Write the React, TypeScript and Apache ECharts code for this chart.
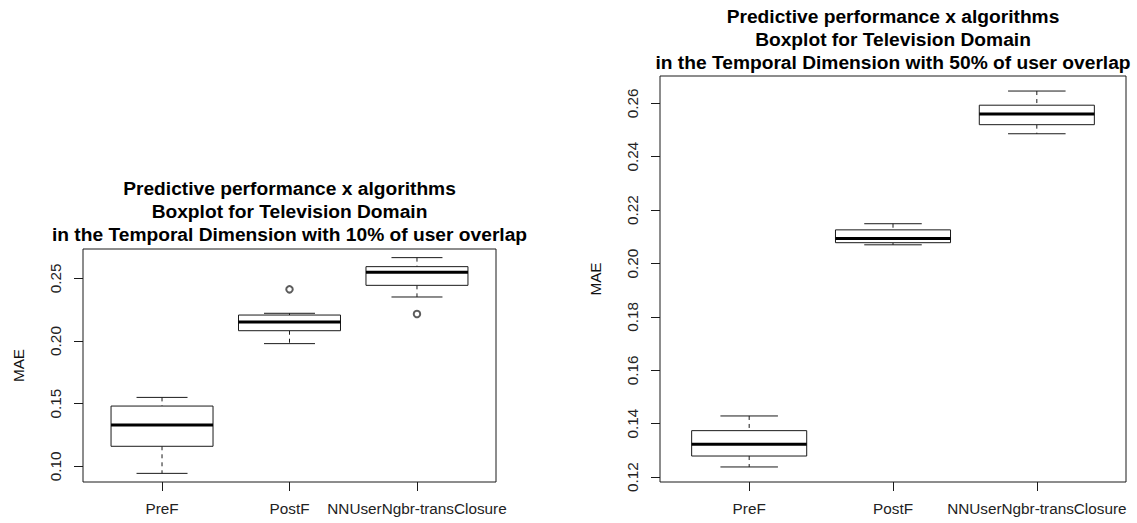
import React, { useEffect, useRef } from 'react';
import * as echarts from 'echarts';

const categories = ['PreF', 'PostF', 'NNUserNgbr-transClosure'];

// each box: [lower whisker, Q1, median, Q3, upper whisker]
const preF10 = [0.0944, 0.116, 0.133, 0.1481, 0.155];
const postF10 = [0.1979, 0.2082, 0.2152, 0.2207, 0.2221];
const nn10 = [0.2351, 0.2444, 0.2548, 0.2593, 0.2665];
const outliers10 = [[2, 0.2412], [3, 0.2215]];

const preF50 = [0.1238, 0.1279, 0.1323, 0.1374, 0.1429];
const postF50 = [0.207, 0.2078, 0.2094, 0.2126, 0.2149];
const nn50 = [0.2486, 0.252, 0.256, 0.2593, 0.2646];
const outliers50: number[][] = [];

const ticks10 = [0.1, 0.15, 0.2, 0.25];
const ticks50 = [0.12, 0.14, 0.16, 0.18, 0.2, 0.22, 0.24, 0.26];
const categoryTicks = [1, 2, 3];

const title10 = 'Predictive performance x algorithms\nBoxplot for Television Domain\nin the Temporal Dimension with 10% of user overlap';
const title50 = 'Predictive performance x algorithms\nBoxplot for Television Domain\nin the Temporal Dimension with 50% of user overlap';
const yName = 'MAE';

const FONT = '"Liberation Sans", Arial, Helvetica, sans-serif';
const INK = '#1a1a1a';

function rRange(boxes: number[][], outs: number[][]) {
  const vals: number[] = [];
  boxes.forEach((b) => vals.push(...b));
  outs.forEach((o) => vals.push(o[1]));
  const lo = Math.min(...vals);
  const hi = Math.max(...vals);
  const d = (hi - lo) * 0.04;
  return [lo - d, hi + d];
}

const renderBox = (params: any, api: any) => {
  const x = api.value(0);
  const lo = api.value(1);
  const q1 = api.value(2);
  const med = api.value(3);
  const q3 = api.value(4);
  const hi = api.value(5);
  const halfBox = api.size([0.4, 0])[0];
  const halfStaple = api.size([0.2, 0])[0];
  const pLo = api.coord([x, lo]);
  const pQ1 = api.coord([x, q1]);
  const pMed = api.coord([x, med]);
  const pQ3 = api.coord([x, q3]);
  const pHi = api.coord([x, hi]);
  const cx = pLo[0];
  const line = (x1: number, y1: number, x2: number, y2: number, style: any) => ({
    type: 'line',
    shape: { x1, y1, x2, y2 },
    style,
  });
  const solid = { stroke: INK, lineWidth: 1 };
  const dashed = { stroke: INK, lineWidth: 1, lineDash: [4, 4] };
  return {
    type: 'group',
    children: [
      line(cx, pHi[1], cx, pQ3[1], dashed),
      line(cx, pQ1[1], cx, pLo[1], dashed),
      line(cx - halfStaple, pHi[1], cx + halfStaple, pHi[1], solid),
      line(cx - halfStaple, pLo[1], cx + halfStaple, pLo[1], solid),
      {
        type: 'rect',
        shape: { x: cx - halfBox, y: pQ3[1], width: 2 * halfBox, height: pQ1[1] - pQ3[1] },
        style: { fill: '#fff', stroke: INK, lineWidth: 1 },
      },
      line(cx - halfBox, pMed[1], cx + halfBox, pMed[1], { stroke: '#000', lineWidth: 3 }),
    ],
  };
};

export default function App() {
  const ref = useRef<HTMLDivElement>(null);
  useEffect(() => {
    if (!ref.current) return;
    const chart = echarts.init(ref.current, null, { renderer: 'svg' });
    const boxes10 = [preF10, postF10, nn10];
    const boxes50 = [preF50, postF50, nn50];
    const r10 = rRange(boxes10, outliers10);
    const r50 = rRange(boxes50, outliers50);

    const xAxisFor = (gridIndex: number) => ({
      type: 'value',
      gridIndex,
      min: 0.38,
      max: 3.62,
      axisLine: { show: false, onZero: false },
      splitLine: { show: false },
      axisTick: { show: true, customValues: categoryTicks, length: 9, lineStyle: { color: INK, width: 1 } },
      axisLabel: {
        customValues: categoryTicks,
        formatter: (v: number) => categories[Math.round(v) - 1] ?? '',
        margin: 19,
        fontSize: 15.3,
        fontFamily: FONT,
        color: '#222',
      },
    });
    const yAxisFor = (gridIndex: number, range: number[], ticks: number[]) => ({
      type: 'value',
      gridIndex,
      min: range[0],
      max: range[1],
      axisLine: { show: false },
      splitLine: { show: false },
      axisTick: { show: true, customValues: ticks, length: 9, lineStyle: { color: INK, width: 1 } },
      axisLabel: {
        customValues: ticks,
        rotate: 90,
        formatter: (v: number) => v.toFixed(2),
        margin: 20,
        fontSize: 15.3,
        fontFamily: FONT,
        color: '#222',
      },
      name: yName,
      nameLocation: 'middle',
      nameRotate: 90,
      nameGap: 57,
      nameTextStyle: { fontSize: 15.3, fontFamily: FONT, color: '#111' },
    });

    const titleFor = (text: string, left: number, top: number) => ({
      text,
      left,
      top,
      textAlign: 'center',
      padding: 0,
      textStyle: { fontSize: 19.2, fontWeight: 'bold', fontFamily: FONT, color: '#000', lineHeight: 23 },
    });

    chart.setOption({
      animation: false,
      backgroundColor: '#fff',
      title: [titleFor(title10, 289.5, 176.5), titleFor(title50, 893, 4.5)],
      grid: [
        { left: 83, right: 641, top: 249, bottom: 41, show: true, borderColor: INK, borderWidth: 1, backgroundColor: 'transparent' },
        { left: 660, right: 11, top: 76, bottom: 41, show: true, borderColor: INK, borderWidth: 1, backgroundColor: 'transparent' },
      ],
      xAxis: [xAxisFor(0), xAxisFor(1)],
      yAxis: [yAxisFor(0, r10, ticks10), yAxisFor(1, r50, ticks50)],
      series: [
        {
          type: 'custom',
          xAxisIndex: 0,
          yAxisIndex: 0,
          renderItem: renderBox,
          encode: { x: 0, y: [1, 2, 3, 4, 5] },
          data: boxes10.map((b, i) => [i + 1, ...b]),
        },
        {
          type: 'scatter',
          xAxisIndex: 0,
          yAxisIndex: 0,
          symbol: 'emptyCircle',
          symbolSize: 6.5,
          itemStyle: { color: '#333', borderWidth: 0.9 },
          data: outliers10,
        },
        {
          type: 'custom',
          xAxisIndex: 1,
          yAxisIndex: 1,
          renderItem: renderBox,
          encode: { x: 0, y: [1, 2, 3, 4, 5] },
          data: boxes50.map((b, i) => [i + 1, ...b]),
        },
      ],
    });
    return () => chart.dispose();
  }, []);
  return (
    <div
      ref={ref}
      style={{ position: 'absolute', left: 0, top: 0, width: 1137, height: 523 }}
    />
  );
}
